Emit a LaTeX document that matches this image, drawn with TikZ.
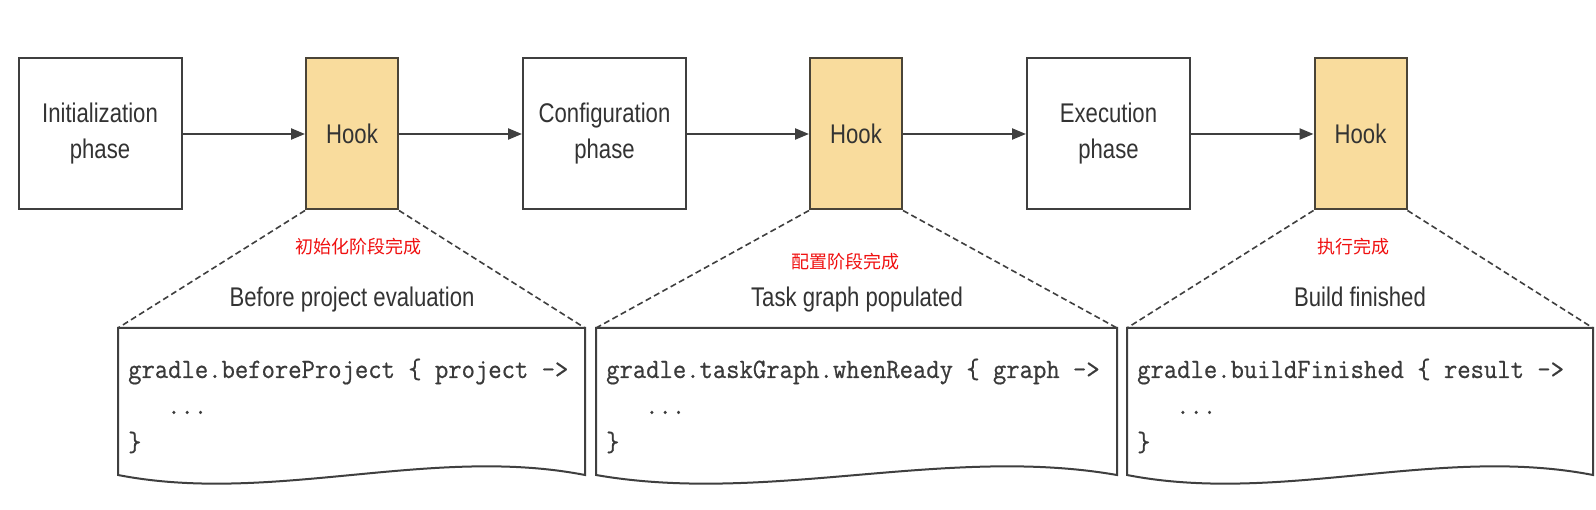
\documentclass[tikz,border=0pt]{standalone}
\usepackage{fontspec}
\setmainfont{Liberation Sans}[FakeStretch=0.82]
\setmonofont{Latin Modern Mono}[FakeStretch=0.925,FakeBold=0.6]
\newfontfamily\cjk{Noto Sans CJK SC}
\usetikzlibrary{arrows.meta}
\definecolor{edgec}{HTML}{3F3F3F}
\definecolor{txtc}{HTML}{333333}
\definecolor{hookfill}{HTML}{F9DC9D}
\definecolor{hookedge}{HTML}{4A4438}
\definecolor{codec}{HTML}{3A3A3A}
\definecolor{cnred}{HTML}{F01010}
\newcommand\codepanel[3]{%
  \pgfmathsetmacro\pw{#3-#2}%
  \coordinate (#1nw) at (#2,328);
  \coordinate (#1ne) at (#3,328);
  \coordinate (#1sw) at (#2,475);
  \coordinate (#1se) at (#3,475);
  \draw[panel] (#1sw) -- (#1nw) -- (#1ne) -- (#1se)
    .. controls (#2+0.67*\pw,445) and (#2+0.33*\pw,505) .. (#1sw) -- cycle;
}
\begin{document}
\begin{tikzpicture}[x=1pt,y=-1pt,
  phasebox/.style={draw=edgec, line width=2pt, fill=white, minimum width=163pt, minimum height=151pt, inner sep=0pt, align=center, text=txtc, font=\fontsize{27}{36}\selectfont},
  hookbox/.style={draw=hookedge, line width=2pt, fill=hookfill, minimum width=92pt, minimum height=151pt, inner sep=0pt, text=txtc, font=\fontsize{27}{36}\selectfont},
  flow/.style={draw=edgec, line width=2.2pt, -{Triangle[length=14pt,width=11pt]}},
  zoomline/.style={draw=edgec, line width=1.6pt, dash pattern=on 6pt off 3.5pt},
  panel/.style={draw=edgec, line width=2pt, line join=miter, fill=white},
  title/.style={anchor=base, text=txtc, font=\fontsize{27}{32}\selectfont, inner sep=0pt},
  codeline/.style={anchor=base west, text=codec, font=\ttfamily\fontsize{28}{32}\selectfont, inner sep=0pt},
  cnlabel/.style={text=cnred, font=\cjk\fontsize{18}{20}\selectfont, inner sep=0pt}
]
\useasboundingbox (0,0) rectangle (1596,510);
\fill[white] (0,0) rectangle (1596,510);

% top row
\node[phasebox] (init) at (100,134) {Initialization\\phase};
\node[hookbox]  (h1)   at (352,134) {Hook};
\node[phasebox] (conf) at (604.5,134) {Configuration\\phase};
\node[hookbox]  (h2)   at (856,134) {Hook};
\node[phasebox] (exec) at (1108.5,134) {Execution\\phase};
\node[hookbox]  (h3)   at (1360.5,134) {Hook};

\draw[flow] (init) -- (h1);
\draw[flow] (h1) -- (conf);
\draw[flow] (conf) -- (h2);
\draw[flow] (h2) -- (exec);
\draw[flow] (exec) -- (h3);

% code panels
\codepanel{pa}{118}{585}
\codepanel{pb}{596}{1117}
\codepanel{pc}{1127}{1593}

\draw[zoomline] (h1.south west) -- (panw);
\draw[zoomline] (h1.south east) -- (pane);
\draw[zoomline] (h2.south west) -- (pbnw);
\draw[zoomline] (h2.south east) -- (pbne);
\draw[zoomline] (h3.south west) -- (pcnw);
\draw[zoomline] (h3.south east) -- (pcne);

% red labels
\node[cnlabel] (cn1) at (358,247) {初始化阶段完成};
\node[cnlabel] (cn2) at (845,262) {配置阶段完成};
\node[cnlabel] (cn3) at (1353,247) {执行完成};

% titles
\node[title] (t1) at (352,307) {Before project evaluation};
\node[title] (t2) at (857,307) {Task graph populated};
\node[title] (t3) at (1360,307) {Build finished};

% code
\node[codeline] (c1a) at (128,378) {gradle.beforeProject \{ project ->};
\node[codeline] (c1b) at (128,414) {\hspace*{39pt}...};
\node[codeline] (c1c) at (128,451) {\}};
\node[codeline] (c2a) at (606,378) {gradle.taskGraph.whenReady \{ graph ->};
\node[codeline] (c2b) at (606,414) {\hspace*{39pt}...};
\node[codeline] (c2c) at (606,451) {\}};
\node[codeline] (c3a) at (1137,378) {gradle.buildFinished \{ result ->};
\node[codeline] (c3b) at (1137,414) {\hspace*{39pt}...};
\node[codeline] (c3c) at (1137,451) {\}};
\end{tikzpicture}
\end{document}
